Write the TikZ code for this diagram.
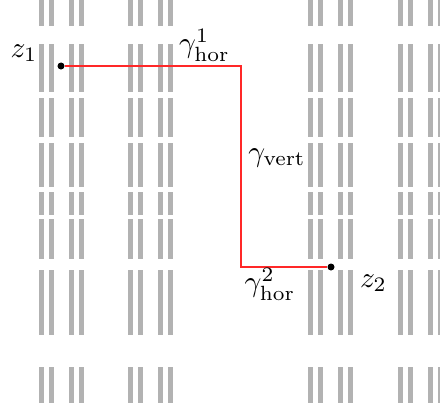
\documentclass[tikz,border=0pt]{standalone}
\definecolor{bargray}{RGB}{178,178,178}
\definecolor{pathred}{RGB}{255,40,40}
\tikzset{
  bar/.style={fill=bargray},
  pathline/.style={draw=pathred, line width=0.714pt},
  dot/.style={circle, fill=black, inner sep=0pt, minimum size=2.5pt},
  lbl/.style={inner sep=0pt, scale=1.05}
}
\begin{document}
\begin{tikzpicture}[x=0.357pt,y=-0.357pt]
\useasboundingbox (0,0) rectangle (440,408);
\foreach \gx in {39,128,308,398}{
  \foreach \dx in {0,10,30,40}{
    \foreach \ya/\yb in {0/25.7,44/91.5,98/137.3,143/186.7,192/215,219.3/259,270/334.7,367/402.7}{
      \fill[bar] (\gx+\dx,\ya) rectangle (\gx+\dx+4.7,\yb);
    }}}
\node[dot] (z1) at (61,66) {};
\node[dot] (z2) at (331,267) {};
\coordinate (c1) at (241,66);
\coordinate (c2) at (241,267);
\draw[pathline] (z1) -- (c1) -- (c2) -- (z2);
\node[lbl] (lz1) at (24,53) {$z_1$};
\node[lbl] (lz2) at (373.5,283) {$z_2$};
\node[lbl] (lg1) at (204.5,45) {$\gamma^1_{\mathrm{hor}}$};
\node[lbl] (lgv) at (277,158) {$\gamma_{\mathrm{vert}}$};
\node[lbl] (lg2) at (270,284) {$\gamma^2_{\mathrm{hor}}$};
\end{tikzpicture}
\end{document}
